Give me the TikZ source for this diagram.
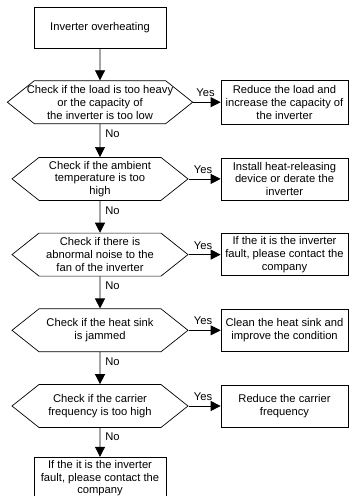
\documentclass[tikz,border=0pt]{standalone}
\usepackage{fontspec}
\setmainfont{Liberation Sans}
\usetikzlibrary{arrows.meta, positioning, shapes.symbols}

\begin{document}
\begin{tikzpicture}[x=1pt, y=-1pt,
base/.style={draw, line width=0.7pt, align=center, font=\fontsize{11.2}{12.8}\selectfont, inner sep=1pt},
box/.style={base, rectangle, minimum width=132pt, minimum height=42pt},
check/.style={base, signal, signal to=west and east, signal pointer angle=77, minimum width=176pt, minimum height=43pt},
act/.style={base, rectangle, minimum width=127pt, minimum height=42pt},
arrow/.style={-{Triangle[length=10pt, width=10pt]}, line width=0.7pt},
lbl/.style={font=\fontsize{11.2}{12.8}\selectfont, inner sep=2pt}
]
\useasboundingbox (0,0) rectangle (349,496);
\coordinate (rx) at (284.5,0);

\node[box, minimum height=41pt] (start) at (100,27.5) {Inverter overheating};
\node[check, inner xsep=-7.5pt, below=32pt of start] (c1) {Check if the load is too heavy\\or the capacity of\\the inverter is too low};
\node[check, below=33pt of c1] (c2) {Check if the ambient\\temperature is too\\high};
\node[check, below=32pt of c2] (c3) {Check if there is\\abnormal noise to the\\fan of the inverter};
\node[check, below=32pt of c3] (c4) {Check if the heat sink\\is jammed};
\node[check, below=32pt of c4] (c5) {Check if the carrier\\frequency is too high};
\node[box, below=29pt of c5] (stop) {If the it is the inverter\\fault, please contact the\\company};

\node[act, minimum height=44pt] (r1) at (c1 -| rx) {Reduce the load and\\increase the capacity of\\the inverter};
\node[act] (r2) at (c2 -| rx) {Install heat-releasing\\device or derate the\\inverter};
\node[act] (r3) at (c3 -| rx) {If the it is the inverter\\fault, please contact the\\company};
\node[act] (r4) at (c4 -| rx) {Clean the heat sink and\\improve the condition};
\node[act] (r5) at (c5 -| rx) {Reduce the carrier\\frequency};

\draw[arrow] (start) -- (c1);
\foreach \i/\j in {1/2, 2/3, 3/4, 4/5}
  \draw[arrow] (c\i) -- node[lbl, right=3pt, pos=0.3] {No} (c\j);
\draw[arrow] (c5) -- node[lbl, right=3pt, pos=0.3] {No} (stop);
\foreach \i in {1,...,5}
  \draw[arrow] (c\i.east) -- node[lbl, above=3pt, pos=0.45] {Yes} (r\i);
\end{tikzpicture}
\end{document}
